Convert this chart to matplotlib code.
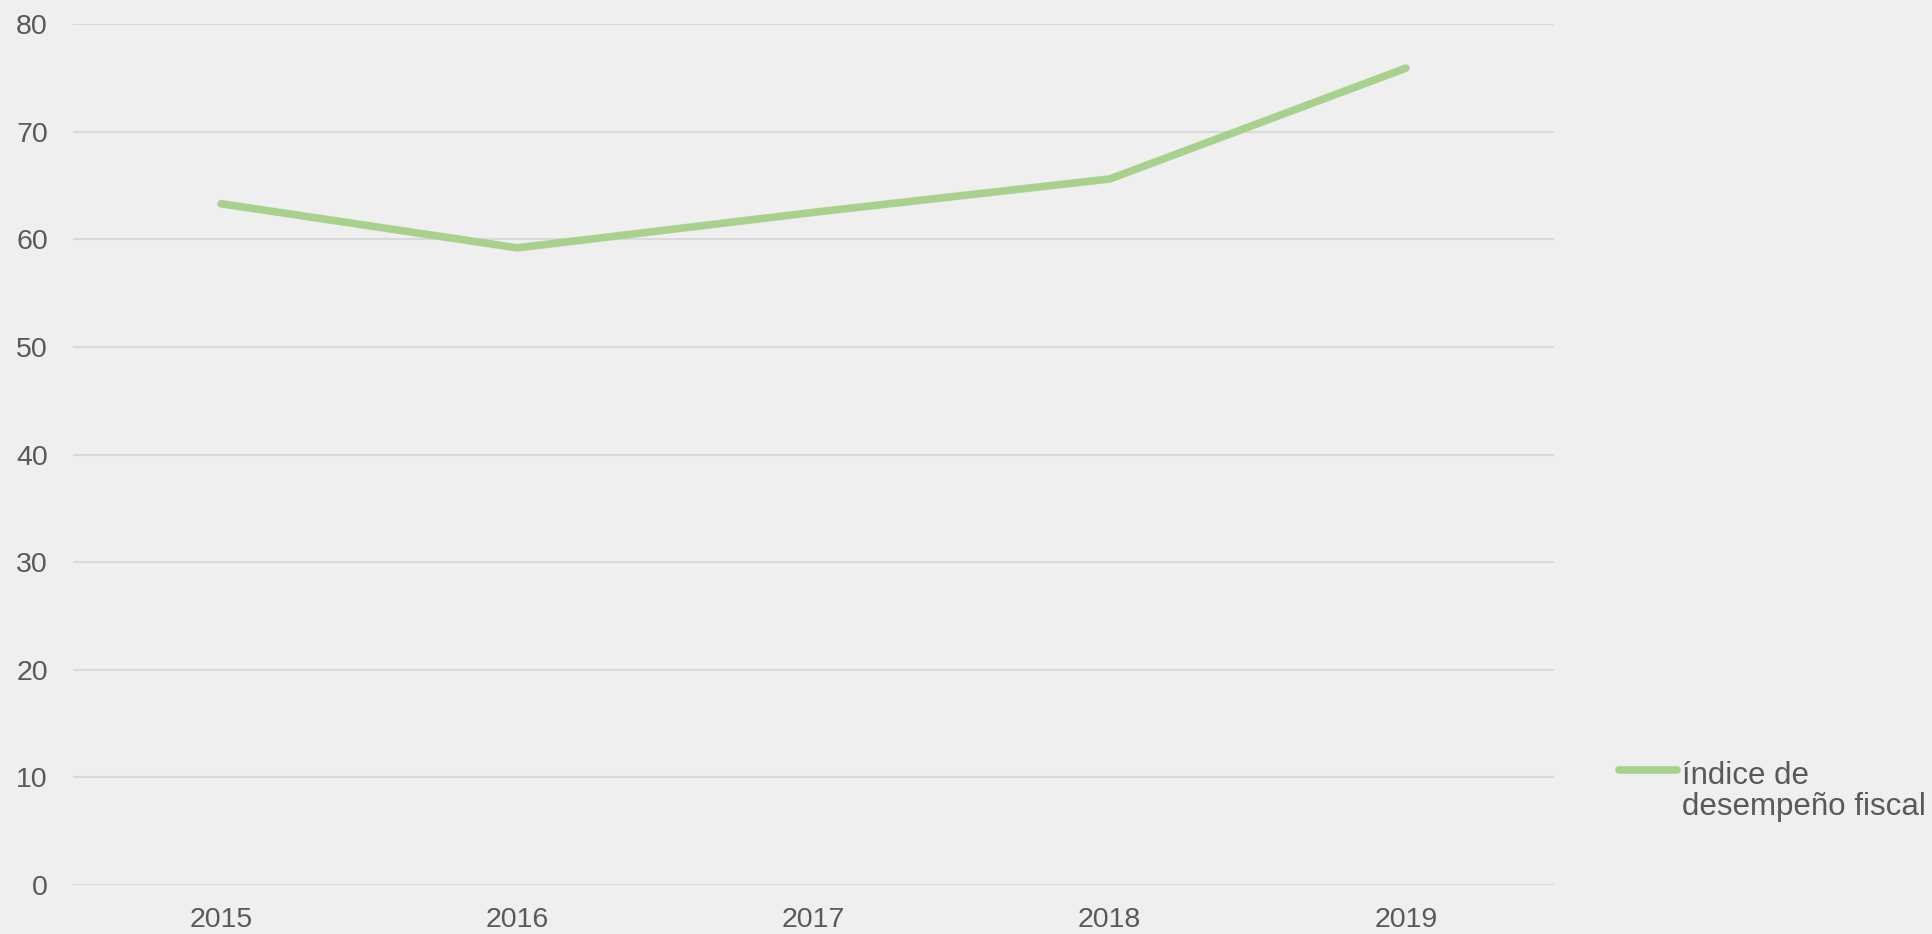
import matplotlib
matplotlib.use("Agg")
import matplotlib.pyplot as plt
from matplotlib.lines import Line2D

# data
years = ["2015", "2016", "2017", "2018", "2019"]
indice = [63.3, 59.2, 62.5, 65.6, 75.9]
y_ticks = [0, 10, 20, 30, 40, 50, 60, 70, 80]
series_label = "índice de\ndesempeño fiscal"

BG = "#efefef"
GREEN = "#a9d18e"
GRID = "#d9d9d9"
TEXT = "#595959"

plt.rcParams["font.family"] = ["Liberation Sans", "DejaVu Sans"]

fig = plt.figure(figsize=(19.33, 9.34), dpi=100, facecolor=BG)
ax = fig.add_axes([73 / 1933, 1 - 885 / 934, 1481 / 1933, 861 / 934])
ax.set_facecolor(BG)

x = list(range(len(years)))
ax.plot(x, indice, color=GREEN, linewidth=5.5, solid_capstyle="round",
        solid_joinstyle="round", label=series_label)

ax.set_xlim(-0.5, len(years) - 0.5)
ax.set_ylim(0, 80)
ax.set_yticks(y_ticks)
ax.set_xticks(x)
ax.set_xticklabels(years)
ax.yaxis.grid(True, color=GRID, linewidth=1.5)
ax.set_axisbelow(True)
for s in ax.spines.values():
    s.set_visible(False)
ax.tick_params(axis="both", length=0, labelsize=20.5, labelcolor=TEXT)
ax.tick_params(axis="y", pad=18)
ax.tick_params(axis="x", pad=16)

# legend drawn by hand so the line sits beside the first text line
lx0, lx1, ly = 1619 / 1933, 1677 / 1933, 1 - 770 / 934
fig.add_artist(Line2D([lx0, lx1], [ly, ly], transform=fig.transFigure,
                      color=GREEN, linewidth=5.5, solid_capstyle="round"))
fig.text(1682 / 1933, ly + 0.0096, series_label, color=TEXT, fontsize=22.5,
         ha="left", va="top", linespacing=1.05)

fig.savefig("out.png", dpi=100, facecolor=BG)
